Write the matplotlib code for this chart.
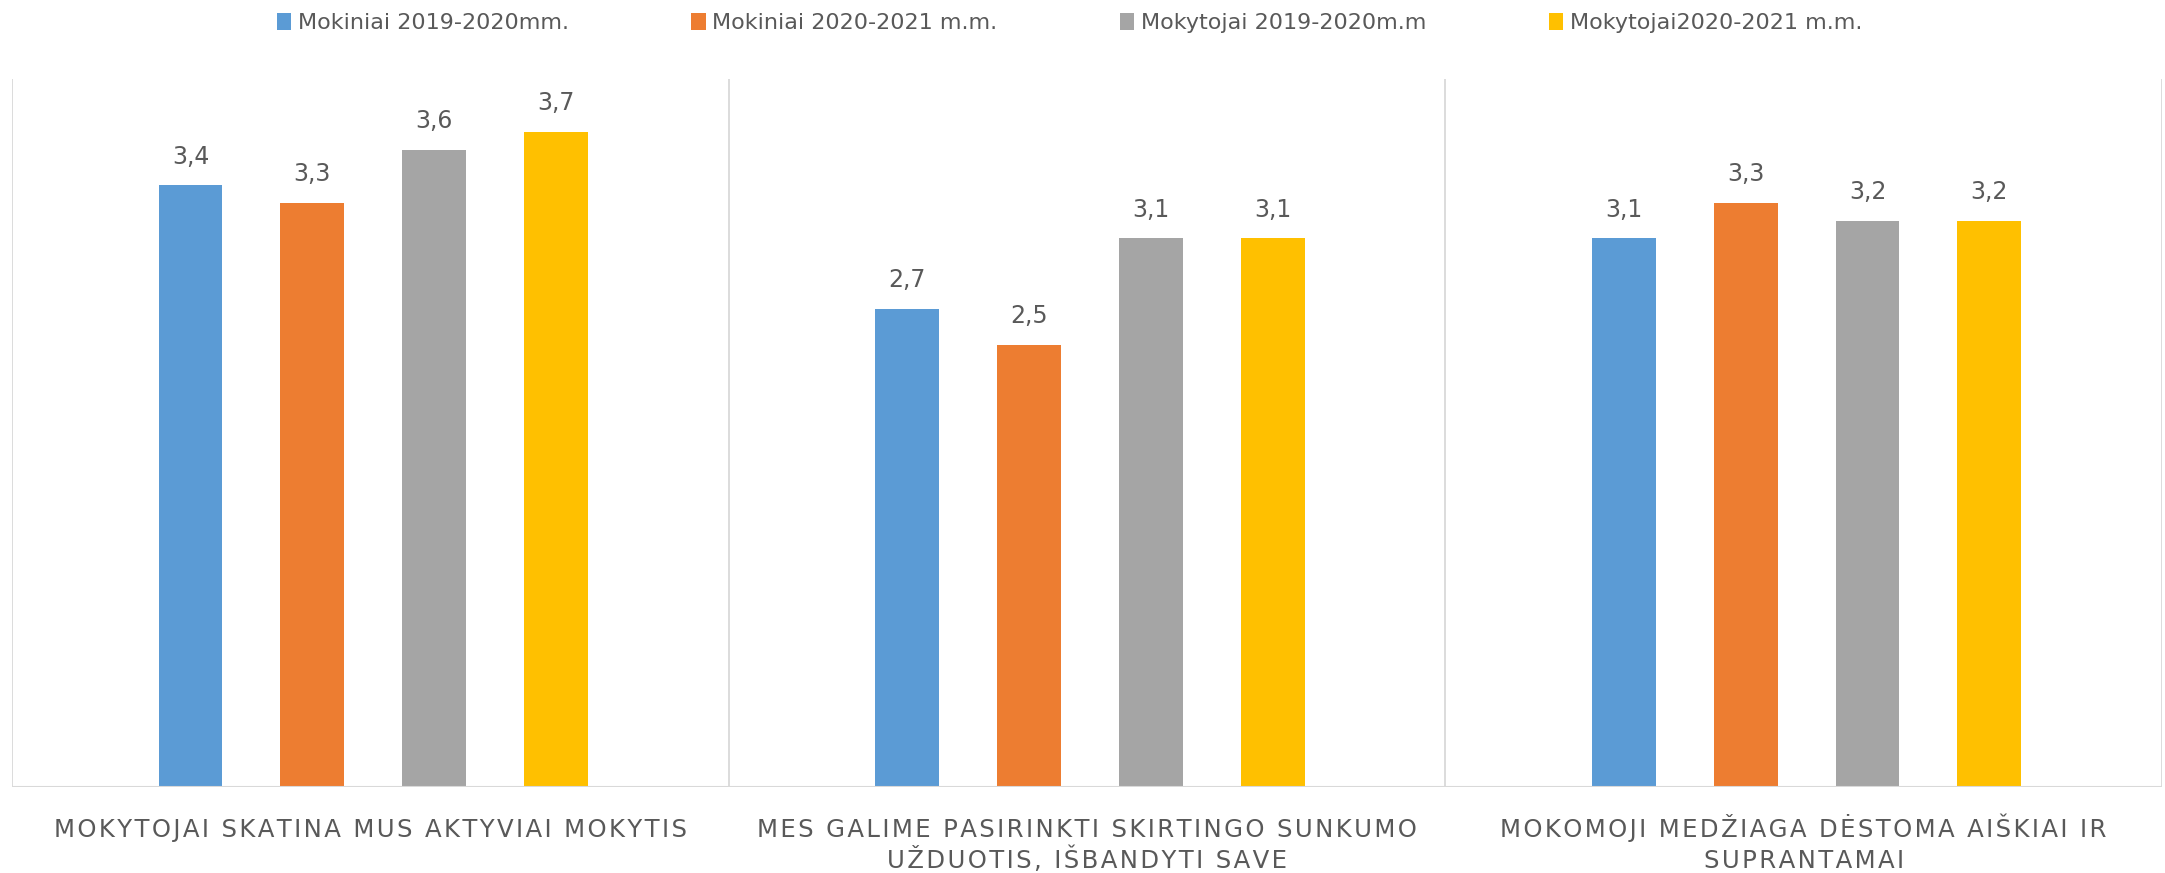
import matplotlib
matplotlib.use("Agg")
import matplotlib.pyplot as plt
import numpy as np

plt.rcParams['font.family'] = ['DejaVu Sans']

categories = [
    "MOKYTOJAI SKATINA MUS AKTYVIAI MOKYTIS",
    "MES GALIME PASIRINKTI SKIRTINGO SUNKUMO\nUŽDUOTIS, IŠBANDYTI SAVE",
    "MOKOMOJI MEDŽIAGA DĖSTOMA AIŠKIAI IR\nSUPRANTAMAI",
]
series_names = ["Mokiniai 2019-2020mm.", "Mokiniai 2020-2021 m.m.",
                "Mokytojai 2019-2020m.m", "Mokytojai2020-2021 m.m."]
mokiniai_1920 = [3.4, 2.7, 3.1]
mokiniai_2021 = [3.3, 2.5, 3.3]
mokytojai_1920 = [3.6, 3.1, 3.2]
mokytojai_2021 = [3.7, 3.1, 3.2]
series = [mokiniai_1920, mokiniai_2021, mokytojai_1920, mokytojai_2021]
colors = ["#5B9BD5", "#ED7D31", "#A5A5A5", "#FFC000"]

fig = plt.figure(figsize=(21.65, 8.73), dpi=100)
ax = fig.add_axes([12/2165, 86/873, 2150/2165, 708/873])

x = np.arange(len(categories))
step = 0.17
width = 0.089
for i, (vals, c, n) in enumerate(zip(series, colors, series_names)):
    bars = ax.bar(x + 0.004 + (i - 1.5) * step, vals, width, color=c, label=n, zorder=3)
    ax.bar_label(bars, labels=[f"{v:.1f}".replace('.', ',') for v in vals],
                 padding=12, fontsize=17, color="#595959")

ax.set_xlim(-0.5, len(categories) - 0.5)
ax.set_ylim(0, 4)
ax.set_yticks([])
ax.set_xticks([])
for s in ax.spines.values():
    s.set_visible(False)
grid_c = "#D9D9D9"
for b in np.arange(-0.5, len(categories), 1.0):
    ax.axvline(b, color=grid_c, lw=1.3, zorder=1)
ax.axhline(0, color=grid_c, lw=1.5, zorder=4)

def spaced(t):
    return "\u200a".join(list(t))

for xi, cat in zip(x, categories):
    for k, line in enumerate(cat.split("\n")):
        ax.text(xi, -0.285 - k * 0.17, spaced(line), ha="center", va="baseline",
                fontsize=17.6, color="#595959")

leg = fig.legend(loc="center", bbox_to_anchor=(0.494, 1 - 23/873), ncol=4, frameon=False,
                 fontsize=16, handlelength=0.65, handleheight=0.8, handletextpad=0.3,
                 columnspacing=5.5, labelcolor="#595959")

fig.savefig("out.png", dpi=100)
